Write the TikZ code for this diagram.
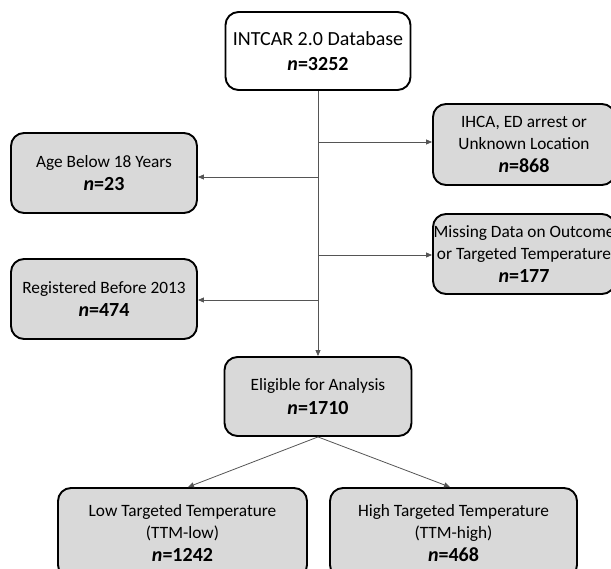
\documentclass[tikz,border=0pt]{standalone}
\usepackage{fontspec}
\setmainfont{Carlito}
\usetikzlibrary{arrows.meta}
\definecolor{boxfill}{RGB}{217,217,217}
\definecolor{linegray}{RGB}{85,85,85}
\newcommand{\nv}[1]{{\fontsize{20}{24}\selectfont\textbf{\textit{n}=#1}}}
\begin{document}
\begin{tikzpicture}[x=1pt,y=-1pt,
  box/.style={draw=black, line width=1.9pt, rounded corners=13pt, fill=boxfill,
    align=center, inner sep=0pt, font=\fontsize{17.3}{22}\selectfont},
  conn/.style={draw=linegray, line width=0.8pt},
  arr/.style={conn, -{Triangle[length=6pt,width=5pt]}}]
\useasboundingbox (0,0) rectangle (611,569);
\clip (0,0) rectangle (611,569);
% boxes
\node[box, fill=white, minimum width=185pt, minimum height=78pt] (db) at (318,51)
  {{\fontsize{20}{24}\selectfont INTCAR 2.0 Database}\\[3pt] \nv{3252}};
\node[box, minimum width=186pt, minimum height=80pt] (age) at (104,173)
  {Age Below 18 Years\\[1.5pt] \nv{23}};
\node[box, minimum width=186pt, minimum height=80pt] (reg) at (104,299)
  {Registered Before 2013\\[1.5pt] \nv{474}};
\node[box, minimum width=182pt, minimum height=81pt] (ihca) at (524,144.5)
  {IHCA, ED arrest or\\ Unknown Location\\[1pt] \nv{868}};
\node[box, minimum width=182pt, minimum height=80pt] (miss) at (524,254)
  {Missing Data on Outcome\\ or Targeted Temperature\\[1pt] \nv{177}};
\node[box, minimum width=187pt, minimum height=79pt] (elig) at (318,396.5)
  {Eligible for Analysis\\[1.5pt] \nv{1710}};
\node[box, minimum width=249pt, minimum height=90pt] (low) at (182.5,533)
  {Low Targeted Temperature\\ (TTM-low)\\[1pt] \nv{1242}};
\node[box, minimum width=247pt, minimum height=90pt] (high) at (453.5,533)
  {High Targeted Temperature\\ (TTM-high)\\[1pt] \nv{468}};
% junctions
\coordinate (j1) at (318,142);
\coordinate (j2) at (318,177);
\coordinate (j3) at (318,255);
\coordinate (j4) at (318,300);
% connectors
\draw[arr] (db.south) -- (elig.north);
\draw[arr] (j1) -- (j1 -| ihca.west);
\draw[arr] (j2) -- (j2 -| age.east);
\draw[arr] (j3) -- (j3 -| miss.west);
\draw[arr] (j4) -- (j4 -| reg.east);
\draw[arr] (elig.south) -- ([xshift=5.5pt]low.north);
\draw[arr] (elig.south) -- ([xshift=-3.5pt]high.north);
\end{tikzpicture}
\end{document}
